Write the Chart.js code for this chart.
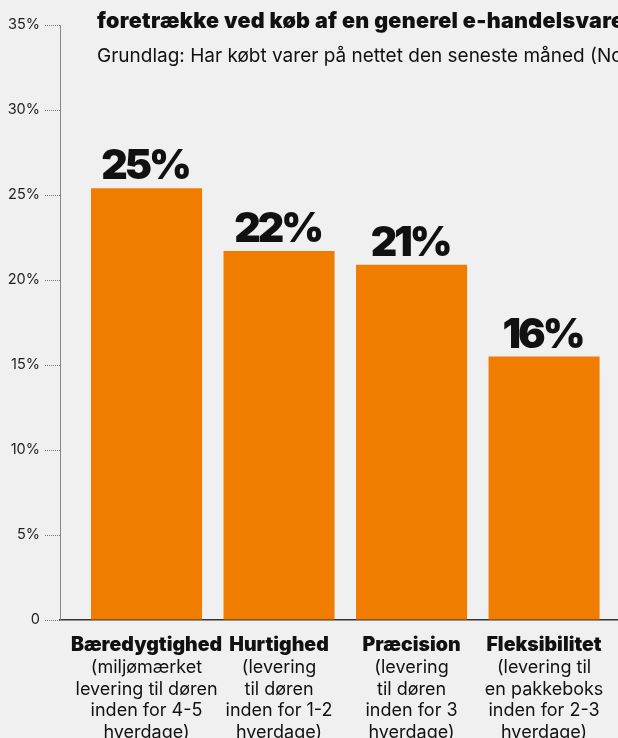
<!DOCTYPE html>
<html lang="da">
<head>
<meta charset="utf-8">
<script src="https://cdn.jsdelivr.net/npm/chart.js@4/dist/chart.umd.min.js"></script>
<style>
  html, body { margin: 0; padding: 0; background: #f0f0f0; overflow: hidden; width: 618px; height: 738px; }
  #wrap { position: absolute; left: 0; top: 0; width: 618px; height: 742px; }
  .title { position: absolute; left: 97px; white-space: nowrap; color: #111; font-family: Inter, Roboto, sans-serif; line-height: 1; }
  #t1 { top: 10px; font-size: 21.5px; font-weight: 900; letter-spacing: 0.3px; }
  #t2 { top: 46px; font-size: 19px; font-weight: 400; }
</style>
</head>
<body>
<div id="wrap"><canvas id="c" width="618" height="742"></canvas></div>
<div class="title" id="t1">foretrække ved køb af en generel e-handelsvare?</div>
<div class="title" id="t2">Grundlag: Har købt varer på nettet den seneste måned (Norden)</div>
<script>
// Leveringsmuligheder og andel der foretrækker dem (%)
const categories = ['Bæredygtighed', 'Hurtighed', 'Præcision', 'Fleksibilitet'];
const descriptions = [
  ['(miljømærket', 'levering til døren', 'inden for 4-5', 'hverdage)'],
  ['(levering', 'til døren', 'inden for 1-2', 'hverdage)'],
  ['(levering', 'til døren', 'inden for 3', 'hverdage)'],
  ['(levering til', 'en pakkeboks', 'inden for 2-3', 'hverdage)']
];
const shares = [25.4, 21.7, 20.9, 15.5];
const yTicks = [0, 5, 10, 15, 20, 25, 30, 35];

const ORANGE = '#f07d00';
const FONT = 'Inter, Roboto, sans-serif';

// value labels above each bar
const valueLabels = {
  id: 'valueLabels',
  afterDatasetsDraw(chart) {
    const ctx = chart.ctx;
    const meta = chart.getDatasetMeta(0);
    ctx.save();
    ctx.font = '900 41px ' + FONT;
    ctx.letterSpacing = '-3px';
    ctx.fillStyle = '#111';
    ctx.textAlign = 'center';
    ctx.textBaseline = 'alphabetic';
    meta.data.forEach((bar, i) => {
      ctx.fillText(Math.round(shares[i]) + '%', bar.x - 1.5, bar.y - 9);
    });
    ctx.restore();
  }
};

const labelFor = (v, lines) => {
  const i = Math.round(v);
  return (Math.abs(v - i) < 1e-6 && lines[i] !== undefined) ? lines[i] : '';
};

const xRange = { min: -0.653, max: 3.558 };

new Chart(document.getElementById('c'), {
  type: 'bar',
  data: {
    datasets: [{
      data: shares.map((v, i) => ({ x: i, y: v })),
      backgroundColor: ORANGE,
      borderWidth: 0,
      barPercentage: 0.838,
      categoryPercentage: 1
    }]
  },
  options: {
    responsive: false,
    animation: false,
    devicePixelRatio: 1,
    layout: { padding: { top: 25, right: 0, bottom: 0, left: 0 } },
    plugins: { legend: { display: false }, tooltip: { enabled: false } },
    scales: {
      x: {
        type: 'linear',
        position: 'bottom',
        offset: false,
        weight: 1,
        min: xRange.min, max: xRange.max,
        grid: { display: false, drawTicks: false, offset: false },
        border: { display: true, color: '#333', width: 1.5 },
        afterBuildTicks: s => { s.ticks = categories.map((_, i) => ({ value: i })); },
        afterFit: s => { s.height = 35; },
        ticks: {
          autoSkip: false, maxRotation: 0, includeBounds: false,
          padding: 13, color: '#111',
          font: { family: FONT, size: 19.5, weight: '900', lineHeight: 1.2 },
          callback: v => labelFor(v, categories)
        }
      },
      x2: {
        type: 'linear',
        position: 'bottom',
        offset: false,
        weight: 2,
        min: xRange.min, max: xRange.max,
        grid: { display: false, drawTicks: false, offset: false },
        border: { display: false },
        afterBuildTicks: s => { s.ticks = categories.map((_, i) => ({ value: i })); },
        afterFit: s => { s.height = 87; },
        ticks: {
          autoSkip: false, maxRotation: 0, includeBounds: false,
          padding: 2.25, color: '#111',
          font: { family: FONT, size: 18, weight: '400', lineHeight: '21.5px' },
          callback: v => labelFor(v, descriptions)
        }
      },
      y: {
        min: 0, max: 35,
        afterBuildTicks: s => { s.ticks = yTicks.map(v => ({ value: v })); },
        afterFit: s => { s.width = 60; },
        grid: {
          drawOnChartArea: false, drawTicks: true, tickLength: 15,
          tickColor: '#777', tickWidth: 1, tickBorderDash: [1, 1]
        },
        border: { display: true, color: '#888', width: 1, dash: [1, 1] },
        ticks: {
          padding: 5, color: '#222',
          font: { family: FONT, size: 14.5, weight: '400' },
          callback: v => v === 0 ? '0' : v + '%'
        }
      }
    }
  },
  plugins: [valueLabels]
});
</script>
</body>
</html>
